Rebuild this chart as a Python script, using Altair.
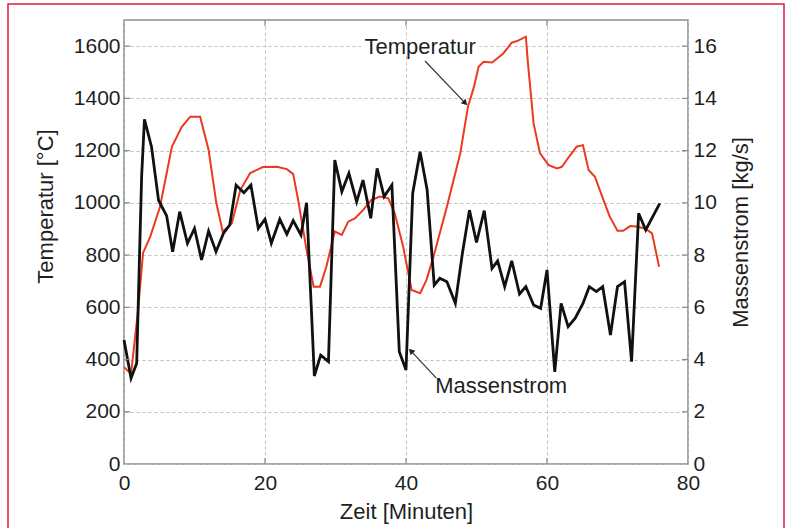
import altair as alt
import pandas as pd

# ---- data ----
temp_t = [0, 1, 2, 2.7, 3.7, 5.1, 6.8, 8.2, 9.4, 10.8, 12, 13.1, 14, 15.3, 16.5, 17.9,
          19.7, 21.7, 23.1, 24, 24.7, 25.9, 26.9, 27.8, 28.7, 29.9, 30.9, 31.8, 32.8,
          33.9, 35.1, 36.3, 37.5, 38.4, 39.6, 40.8, 42, 42.9, 43.9, 45.8, 47.7, 48.8,
          49.6, 50.3, 51, 52.2, 53.8, 55, 55.9, 57, 57.3, 58.1, 59, 60.2, 61.4, 62.1,
          63.3, 64.2, 65.1, 65.9, 66.8, 68, 68.9, 70, 70.8, 71.8, 72.7, 73.9, 74.9, 75.9]
temp_v = [371, 345, 590, 808, 869, 984, 1215, 1291, 1330, 1330, 1202, 999, 890, 922, 1049, 1114,
          1137, 1138, 1129, 1110, 1011, 819, 679, 679, 755, 890, 877, 928, 941,
          972, 1011, 1024, 1017, 960, 832, 666, 654, 704, 794, 985, 1190, 1370,
          1440, 1521, 1540, 1537, 1572, 1613, 1621, 1636, 1534, 1304, 1190, 1145, 1132, 1138,
          1183, 1215, 1221, 1126, 1100, 1011, 947, 893, 893, 911, 909, 902, 883, 755]

mass_t = [0, 1, 1.8, 2.5, 2.9, 3.9, 4.9, 6.05, 6.9, 7.9, 9, 10, 11, 12, 13.05, 14.1, 15,
          15.9, 17, 18, 19.05, 20, 20.9, 22.1, 23.1, 24, 25.1, 25.9, 27, 27.9, 29, 29.9,
          30.9, 31.9, 33, 33.9, 35, 35.9, 36.9, 38, 39.05, 40, 40.95, 42, 43, 44, 44.8,
          45.8, 47, 48, 49, 50, 51.1, 52.2, 53, 54, 55, 56.1, 57, 58.1, 59.1, 60, 61.1,
          62, 63, 64, 65.1, 66, 67, 67.9, 69, 70, 71, 72, 73, 74, 76]
mass_v = [4.75, 3.28, 3.86, 11.0, 13.2, 12.15, 10.1, 9.5, 8.13, 9.66, 8.45, 9.02, 7.81, 8.92, 8.13, 8.83, 9.15,
          10.68, 10.39, 10.68, 9.02, 9.37, 8.45, 9.37, 8.8, 9.32, 8.77, 10.0, 3.37, 4.17, 3.92, 11.64,
          10.43, 11.13, 10.04, 10.87, 9.41, 11.32, 10.24, 10.68, 4.3, 3.6, 10.37, 11.96, 10.49, 6.85, 7.11,
          6.98, 6.15, 8.07, 9.72, 8.48, 9.7, 7.49, 7.78, 6.79, 7.78, 6.51, 6.79, 6.09, 5.96, 7.43, 3.53,
          6.15, 5.26, 5.58, 6.15, 6.79, 6.6, 6.79, 4.94, 6.79, 6.98, 3.92, 9.6, 8.96, 9.98]

x_ticks = [0, 20, 40, 60, 80]
temp_ticks = [0, 200, 400, 600, 800, 1000, 1200, 1400, 1600]
mass_ticks = [0, 2, 4, 6, 8, 10, 12, 14, 16]

# annotations (data coordinates: minutes, °C)
ann_text = ["Temperatur", "Massenstrom"]
ann_tx = [42.0, 53.5]
ann_ty = [1598, 299]
box_x1 = [33.6]
box_x2 = [50.4]
arrow_x1 = [42.7, 44.3]
arrow_y1 = [1543, 329]
arrow_x2 = [48.4, 40.7]
arrow_y2 = [1382, 433]
arrow_angle = [136, 317]

W, H = 564, 444
FONT = "Liberation Sans"
TXT = "#1f1f1f"

temp_df = pd.DataFrame({"t": temp_t, "T": temp_v})
mass_df = pd.DataFrame({"t": mass_t, "M": mass_v})
ann_df = pd.DataFrame({"x": ann_tx, "y": ann_ty, "label": ann_text})
box_df = pd.DataFrame({"x1": box_x1, "x2": box_x2, "y": ann_ty[:1]})
arr_df = pd.DataFrame({"x1": arrow_x1, "y1": arrow_y1, "x2": arrow_x2, "y2": arrow_y2, "ang": arrow_angle})
tick_y_df = pd.DataFrame({"v": temp_ticks[1:]})
tick_x_df = pd.DataFrame({"v": x_ticks[1:-1]})

xscale = alt.Scale(domain=[0, 80], nice=False, zero=False)
tscale = alt.Scale(domain=[0, 1700], nice=False)
mscale = alt.Scale(domain=[0, 17], nice=False)

x_axis = alt.Axis(values=x_ticks, grid=True, gridDash=[3, 3], gridColor="#bdbdbd", gridWidth=1,
                  domain=False, ticks=False, labelPadding=8, labelFontSize=21, labelFont=FONT,
                  labelColor=TXT, labelFlush=False, format="d", title="Zeit [Minuten]",
                  titleFontSize=22, titleFont=FONT, titleFontWeight="normal", titleColor=TXT,
                  titleBaseline="middle", titleY=47)

frame = alt.Chart(pd.DataFrame({"a": [0]})).mark_rect(
    fillOpacity=0, stroke="#e3173e", strokeWidth=1.5
).encode(x=alt.value(-116), x2=alt.value(660), y=alt.value(-16), y2=alt.value(530))

temp_line = alt.Chart(temp_df).mark_line(color="#ea3a1f", strokeWidth=2).encode(
    x=alt.X("t:Q", scale=xscale, axis=x_axis),
    y=alt.Y("T:Q", scale=tscale,
            axis=alt.Axis(values=temp_ticks, grid=True, gridDash=[3, 3], gridColor="#bdbdbd",
                          domain=False, ticks=False, labelPadding=4, labelFontSize=21,
                          labelFont=FONT, labelColor=TXT, labelOverlap=False, format="d",
                          title="Temperatur [°C]", titleFontSize=22, titleFont=FONT,
                          titleFontWeight="normal", titleColor=TXT, titleAngle=270,
                          titleBaseline="middle", titleAlign="center", titleX=-79, titleY=186)),
)

mass_line = alt.Chart(mass_df).mark_line(color="#111111", strokeWidth=2.8).encode(
    x=alt.X("t:Q", scale=xscale),
    y=alt.Y("M:Q", scale=mscale,
            axis=alt.Axis(orient="right", values=mass_ticks, grid=False, domain=False, ticks=False,
                          labelPadding=5, labelFontSize=21, labelFont=FONT, labelColor=TXT,
                          labelOverlap=False, format="d",
                          title="Massenstrom [kg/s]", titleFontSize=22, titleFont=FONT,
                          titleFontWeight="normal", titleColor=TXT, titleAngle=270,
                          titleBaseline="middle", titleAlign="center", titleX=52, titleY=212)),
)

tick_col = "#8a8a8a"
ty_left = alt.Chart(tick_y_df).mark_rule(color=tick_col, strokeWidth=1.2).encode(
    y=alt.Y("v:Q", scale=tscale, axis=None), x=alt.value(0), x2=alt.value(6))
ty_right = alt.Chart(tick_y_df).mark_rule(color=tick_col, strokeWidth=1.2).encode(
    y=alt.Y("v:Q", scale=tscale, axis=None), x=alt.value(W - 6), x2=alt.value(W))
tx_bot = alt.Chart(tick_x_df).mark_rule(color=tick_col, strokeWidth=1.2).encode(
    x=alt.X("v:Q", scale=xscale), y=alt.value(H - 6), y2=alt.value(H))
tx_top = alt.Chart(tick_x_df).mark_rule(color=tick_col, strokeWidth=1.2).encode(
    x=alt.X("v:Q", scale=xscale), y=alt.value(0), y2=alt.value(6))

ann_box = alt.Chart(box_df).mark_rule(color="white", strokeWidth=14).encode(
    x=alt.X("x1:Q", scale=xscale), x2="x2:Q",
    y=alt.Y("y:Q", scale=tscale, axis=None))

ann_txt = alt.Chart(ann_df).mark_text(fontSize=22, font=FONT, color=TXT, align="center",
                                      baseline="middle").encode(
    x=alt.X("x:Q", scale=xscale), y=alt.Y("y:Q", scale=tscale, axis=None), text="label:N")

arr_line = alt.Chart(arr_df).mark_rule(color="#333333", strokeWidth=1.2).encode(
    x=alt.X("x1:Q", scale=xscale), x2="x2:Q",
    y=alt.Y("y1:Q", scale=tscale, axis=None), y2="y2:Q")
arr_head = alt.Chart(arr_df).mark_point(shape="triangle-up", filled=True, color="#222222",
                                        opacity=1, size=45).encode(
    x=alt.X("x2:Q", scale=xscale), y=alt.Y("y2:Q", scale=tscale, axis=None),
    angle=alt.Angle("ang:Q", scale=None))

chart = alt.layer(
    frame, temp_line, mass_line, ty_left, ty_right, tx_bot, tx_top,
    ann_box, ann_txt, arr_line, arr_head
).resolve_scale(y="independent").properties(
    width=W, height=H,
    autosize=alt.AutoSizeParams(type="none"),
    padding={"left": 124, "top": 20, "right": 101, "bottom": 64},
    background="white",
).configure_view(stroke="#8f8f8f", strokeWidth=1.6)

chart.save("out.html", embed_options={"renderer": "svg", "actions": False})
